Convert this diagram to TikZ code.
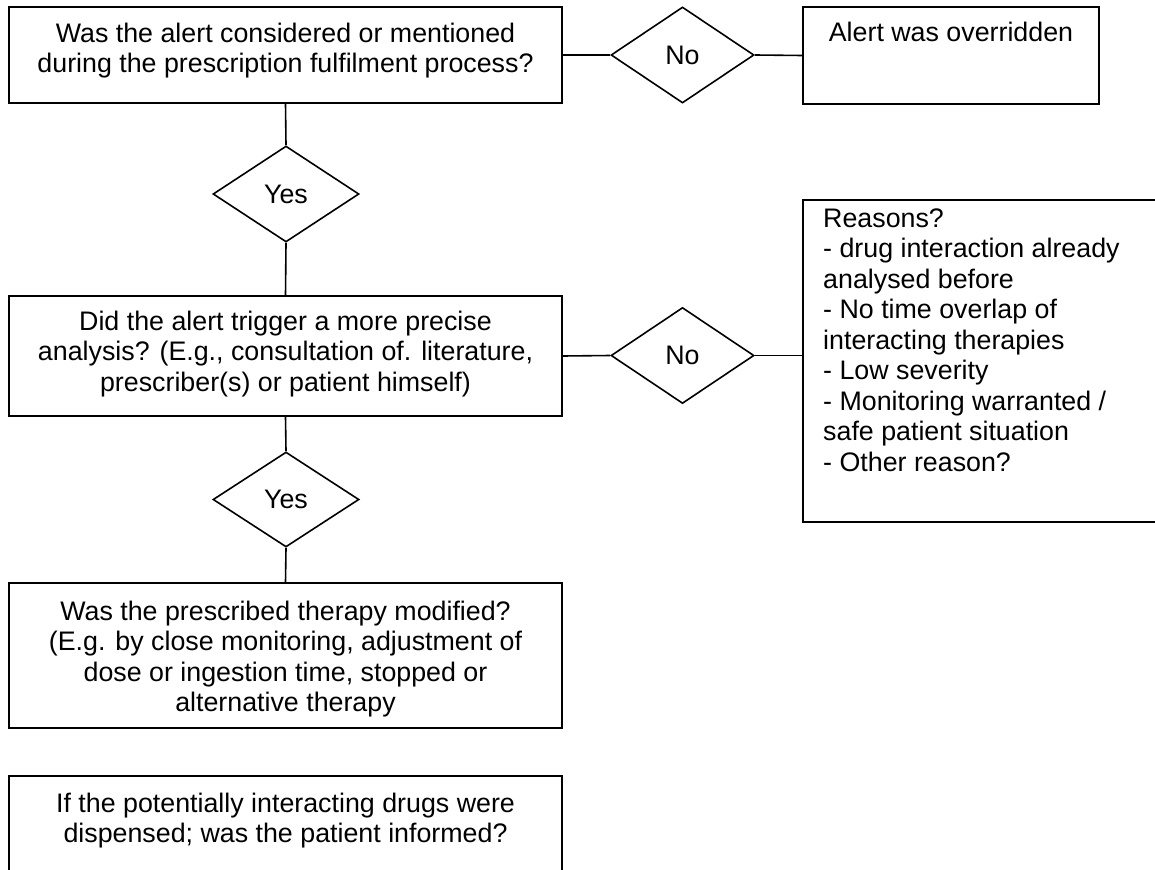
\documentclass[tikz,border=0pt]{standalone}
\usepackage{fontspec}
\setmainfont{Liberation Sans}
\usetikzlibrary{shapes.geometric}
\newcommand\myfs{\fontsize{26.8}{30.5}\selectfont}
\newcommand\fl{\rule{0pt}{20pt}}
\begin{document}
\begin{tikzpicture}[x=1pt,y=-1pt,
  box/.style={draw, line width=1.6pt, rectangle, inner sep=0pt},
  dia/.style={draw, line width=1.6pt, diamond, minimum width=143pt, minimum height=96pt, inner sep=0pt, font=\myfs},
  txt/.style={inner sep=0pt, align=center, font=\myfs, anchor=north},
  conn/.style={line width=1.6pt}]
\useasboundingbox (0,0) rectangle (1155,869);
\clip (0,0) rectangle (1155,869);
\fill[white] (0,0) rectangle (1155,869);
% boxes
\node[box, minimum width=553pt, minimum height=96pt] (b1) at (285.5,55) {};
\node[box, minimum width=296pt, minimum height=97pt] (b2) at (951,55.5) {};
\node[box, minimum width=553pt, minimum height=120pt] (b3) at (285.5,356) {};
\node[box, minimum width=397pt, minimum height=322pt] (b4) at (1001.5,361) {};
\node[box, minimum width=553pt, minimum height=145pt] (b5) at (285.5,655.5) {};
\node[box, minimum width=553pt, minimum height=124pt] (b6) at (285.5,838) {};
% diamonds
\node[dia] (n1) at (682.5,55) {No};
\node[dia] (n2) at (682.5,355.5) {No};
\node[dia, minimum width=146pt] (y1) at (286,194) {Yes};
\node[dia, minimum width=146pt, minimum height=95pt] (y2) at (286,499.5) {Yes};
% texts
\node[txt] (t1) at (285.5,22) {\fl Was the alert considered or mentioned\\during the prescription fulfilment process?};
\node[txt] (t2) at (951,21) {\fl Alert was overridden};
\node[txt] (t3) at (285.5,310) {\fl Did the alert trigger a more precise\\analysis? (E.g., consultation of. literature,\\prescriber(s) or patient himself)};
\node[txt, anchor=north west, align=left] (t4) at (823,207) {\fl Reasons?\\- drug interaction already\\analysed before\\- No time overlap of\\interacting therapies\\- Low severity\\- Monitoring warranted /\\safe patient situation\\- Other reason?};
\node[txt] (t5) at (285.5,600) {\fl Was the prescribed therapy modified?\\(E.g. by close monitoring, adjustment of\\dose or ingestion time, stopped or\\alternative therapy};
\node[txt] (t6) at (285.5,792) {\fl If the potentially interacting drugs were\\dispensed; was the patient informed?};
% connectors
\draw[conn] (b1.east) -- (n1.west);
\draw[conn] (n1.east) -- (b2.west);
\draw[conn] (b1.south) -- (y1.north);
\draw[conn] (y1.south) -- (b3.north);
\draw[conn] (b3.east) -- (n2.west);
\draw[conn] (n2.east) -- (n2.east -| b4.west);
\draw[conn] (b3.south) -- (y2.north);
\draw[conn] (y2.south) -- (b5.north);
\end{tikzpicture}
\end{document}
